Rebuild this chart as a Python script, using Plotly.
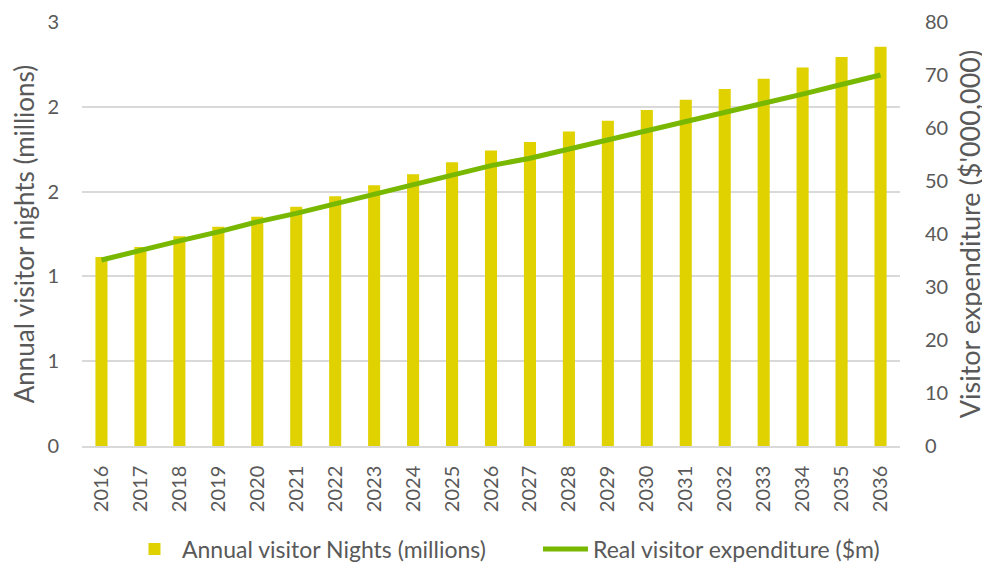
import plotly.graph_objects as go

years = [str(y) for y in range(2016, 2037)]
visitor_nights = [1.114, 1.173, 1.236, 1.293, 1.352, 1.411, 1.472, 1.537, 1.602, 1.673, 1.743,
                  1.792, 1.855, 1.918, 1.981, 2.042, 2.105, 2.166, 2.231, 2.294, 2.354]
expenditure = [35.1, 37.0, 38.7, 40.4, 42.3, 43.9, 45.7, 47.4, 49.1, 50.9, 52.9,
               54.3, 56.0, 57.7, 59.6, 61.3, 63.0, 64.7, 66.4, 68.2, 70.0]
left_tickvals = [0, 0.5, 1, 1.5, 2, 2.5]
left_ticktext = ["0", "1", "1", "2", "2", "3"]
right_tickvals = [0, 10, 20, 30, 40, 50, 60, 70, 80]

FONT = "Lato, 'Open Sans', sans-serif"
GREY = "#595959"

fig = go.Figure()
fig.add_trace(go.Bar(x=years, y=visitor_nights, name="Annual visitor Nights (millions)",
                     marker=dict(color="#E0D100", line=dict(width=0)), yaxis="y"))
fig.add_trace(go.Scatter(x=years, y=expenditure, name="Real visitor expenditure ($m)",
                         mode="lines", line=dict(color="#78B800", width=5), yaxis="y2"))

# the page body adds an 8px offset, so the figure is 8px smaller and margins shifted
fig.update_layout(
    width=982, height=555,
    margin=dict(l=74, r=90, t=14, b=117),
    paper_bgcolor="white", plot_bgcolor="white",
    font=dict(family=FONT, color=GREY, size=16),
    bargap=0.69,
    showlegend=True,
    legend=dict(orientation="h", x=0.055, xanchor="left", y=0.025, yref="container",
                yanchor="middle",
                font=dict(size=23, color=GREY), traceorder="normal", itemwidth=45,
                entrywidth=351, entrywidthmode="pixels"),
    xaxis=dict(type="category", tickangle=-90, tickfont=dict(size=20, color=GREY),
               showline=True, linecolor="#D9D9D9", linewidth=1.5, ticks="",
               showgrid=False, automargin=False, ticklabelstandoff=10),
    yaxis=dict(range=[0, 2.5], tickvals=left_tickvals, ticktext=left_ticktext,
               showgrid=True, gridcolor="#D9D9D9", gridwidth=1.5, zeroline=False,
               tickfont=dict(size=20, color=GREY), automargin=False, ticklabelstandoff=22,
               title=dict(text="Annual visitor nights (millions)", font=dict(size=26, color=GREY), standoff=8)),
    yaxis2=dict(range=[0, 80], tickvals=right_tickvals, overlaying="y", side="right",
                showgrid=False, zeroline=False, tickfont=dict(size=20, color=GREY),
                automargin=False, ticklabelstandoff=24,
                title=dict(text="Visitor expenditure ($'000,000)", font=dict(size=27, color=GREY), standoff=13)),
)

fig.write_html("out.html")
